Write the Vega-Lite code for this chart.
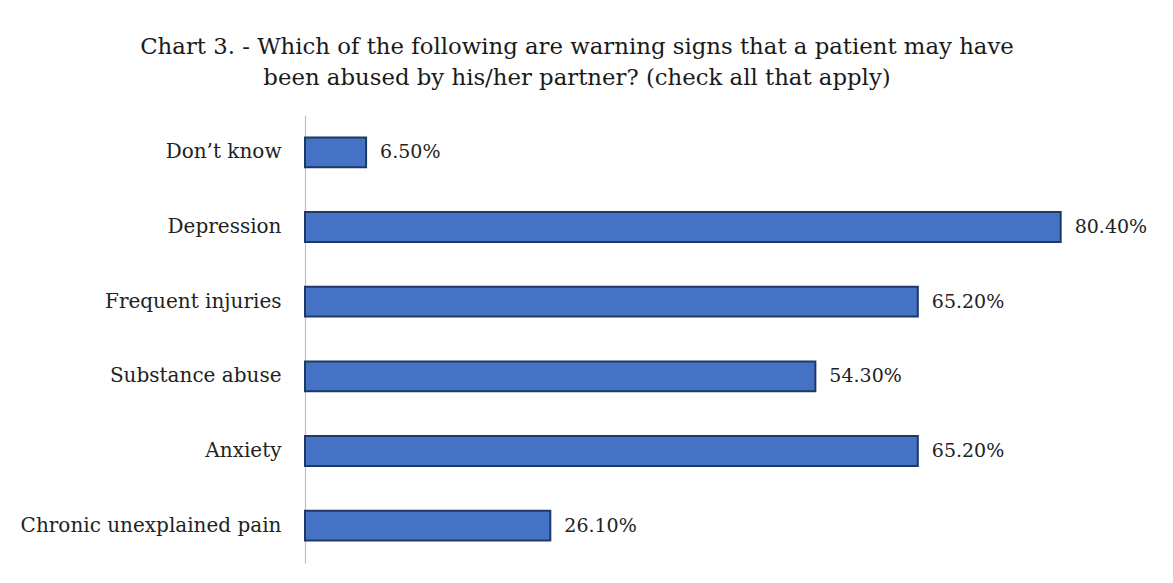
{
  "$schema": "https://vega.github.io/schema/vega-lite/v6.json",
  "autosize": {"type": "none"},
  "width": 860,
  "height": 448,
  "padding": {"left": 305, "top": 115, "right": 8, "bottom": 20},
  "background": "white",
  "title": {
    "text": ["Chart 3.  - Which of the following are warning signs that a patient may have", "been abused by his/her partner? (check all that apply)"],
    "font": "DejaVu Serif",
    "fontSize": 22.8,
    "fontWeight": "normal",
    "color": "#1a1a1a",
    "anchor": "middle",
    "dx": -158,
    "offset": 25,
    "lineHeight": 31
  },
  "data": {
    "values": [
      {"sign": "Don’t know", "v": 0.065},
      {"sign": "Depression", "v": 0.804},
      {"sign": "Frequent injuries", "v": 0.652},
      {"sign": "Substance abuse", "v": 0.543},
      {"sign": "Anxiety", "v": 0.652},
      {"sign": "Chronic unexplained pain", "v": 0.261}
    ]
  },
  "config": {"view": {"stroke": null}},
  "encoding": {
    "y": {
      "field": "sign", "type": "nominal", "sort": null,
      "scale": {"paddingInner": 0.6, "paddingOuter": 0.3},
      "axis": {"title": null, "ticks": false, "labelFont": "DejaVu Serif", "labelFontSize": 20, "labelColor": "#222222", "labelPadding": 24, "labelLimit": 0, "domainColor": "#bfbfbf", "domainWidth": 1.2, "grid": false}
    },
    "x": {
      "field": "v", "type": "quantitative",
      "scale": {"domain": [0, 0.915], "nice": false},
      "axis": null
    }
  },
  "layer": [
    {"mark": {"type": "bar", "fill": "#4472C4", "stroke": "#1F3864", "strokeWidth": 2}},
    {"mark": {"type": "text", "align": "left", "baseline": "middle", "dx": 14, "font": "DejaVu Serif", "fontSize": 19, "color": "#222222"},
     "encoding": {"text": {"field": "v", "type": "quantitative", "format": ".2%"}}}
  ]
}
